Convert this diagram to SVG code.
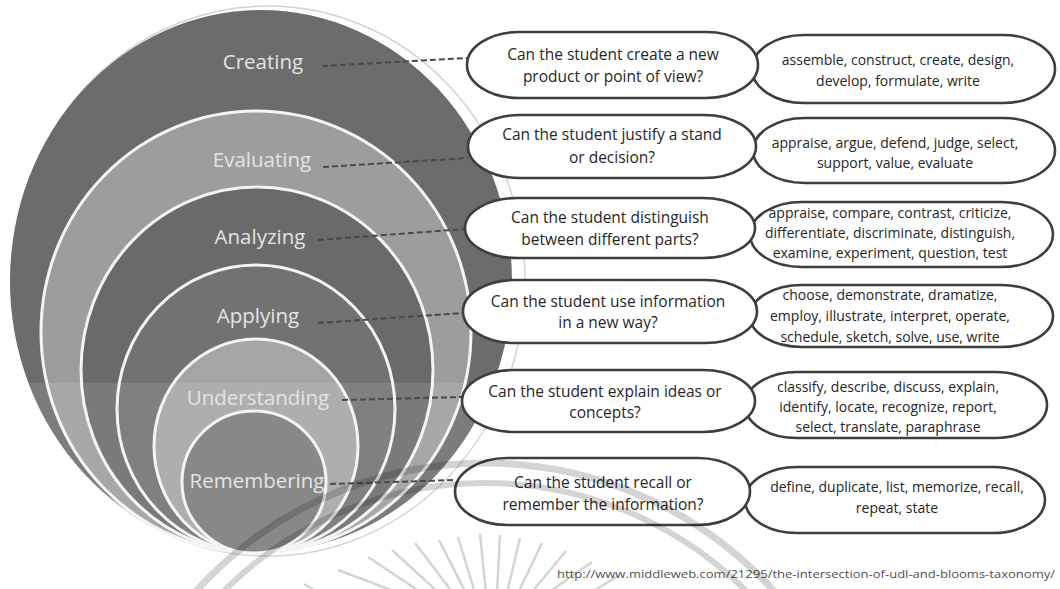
<svg xmlns="http://www.w3.org/2000/svg" width="1060" height="589" viewBox="0 0 1060 589">
<defs>
<style>
.ring{stroke:#f4f4f4;stroke-width:3}
.lbl{font-family:"Open Sans","Liberation Sans",sans-serif;font-size:20.5px;fill:#e4e4e4;text-anchor:middle}
.q{fill:#fff;stroke:#3e3e3e;stroke-width:2.6}
.qt{font-family:"Open Sans","Liberation Sans",sans-serif;font-size:15.5px;fill:#262626;text-anchor:middle}
.vt{font-family:"Open Sans","Liberation Sans",sans-serif;font-size:14px;fill:#262626;text-anchor:middle}
.con{stroke:#4a4a4a;stroke-width:2;stroke-dasharray:6 3;fill:none}
.wm{fill:none;stroke:#000;stroke-opacity:0.17}
</style>
<filter id="soft" x="-5%" y="-5%" width="110%" height="110%"><feGaussianBlur stdDeviation="0.6"/></filter>
</defs>
<rect width="1060" height="589" fill="#ffffff"/>

<g id="circles" filter="url(#soft)">
<ellipse cx="268" cy="281" rx="257" ry="275" fill="none" stroke="#d2d2d2" stroke-width="1.5"/>
<g id="creating"><ellipse cx="261" cy="281" rx="251" ry="271" fill="#6c6c6c"/></g>
<g id="evaluating"><ellipse class="ring" cx="256" cy="332" rx="215" ry="221" fill="#9d9d9d"/></g>
<g id="analyzing"><ellipse class="ring" cx="257" cy="370" rx="176" ry="183" fill="#6b6b6b"/></g>
<g id="applying"><ellipse class="ring" cx="256" cy="409" rx="139" ry="144" fill="#727272"/></g>
<g id="understanding"><ellipse class="ring" cx="256" cy="446" rx="102" ry="107" fill="#a5a5a5"/></g>
<g id="remembering"><ellipse class="ring" cx="254" cy="482" rx="72" ry="71" fill="#7b7b7b"/></g>
<rect x="0" y="383" width="520" height="206" fill="#ffffff" fill-opacity="0.1"/>
</g>

<g id="labels">
<text class="lbl" x="263" y="69">Creating</text>
<text class="lbl" x="262" y="167">Evaluating</text>
<text class="lbl" x="260" y="244">Analyzing</text>
<text class="lbl" x="258" y="323">Applying</text>
<text class="lbl" x="258" y="405">Understanding</text>
<text class="lbl" x="257" y="488">Remembering</text>
</g>

<g id="connectors">
<line class="con" x1="322" y1="66" x2="467" y2="58"/>
<line class="con" x1="323" y1="167" x2="468" y2="158"/>
<line class="con" x1="318" y1="240" x2="465" y2="229"/>
<line class="con" x1="318" y1="323" x2="463" y2="313"/>
<line class="con" x1="342" y1="400" x2="462" y2="397"/>
<line class="con" x1="330" y1="484" x2="455" y2="480"/>
</g>

<g id="verbs">
<g id="v1"><rect class="q" x="752" y="35" width="303" height="68" rx="52" ry="34"/>
<text class="vt" x="898" y="65">assemble, construct, create, design,</text>
<text class="vt" x="898" y="86">develop, formulate, write</text></g>
<g id="v2"><rect class="q" x="753" y="118" width="302" height="65" rx="52" ry="32.5"/>
<text class="vt" x="895" y="148">appraise, argue, defend, judge, select,</text>
<text class="vt" x="895" y="168">support, value, evaluate</text></g>
<g id="v3"><rect class="q" x="750" y="202" width="303" height="65" rx="52" ry="32.5"/>
<text class="vt" x="890" y="218">appraise, compare, contrast, criticize,</text>
<text class="vt" x="890" y="238">differentiate, discriminate, distinguish,</text>
<text class="vt" x="890" y="258">examine, experiment, question, test</text></g>
<g id="v4"><rect class="q" x="750" y="285" width="303" height="62" rx="52" ry="31"/>
<text class="vt" x="890" y="300">choose, demonstrate, dramatize,</text>
<text class="vt" x="890" y="321">employ, illustrate, interpret, operate,</text>
<text class="vt" x="890" y="342">schedule, sketch, solve, use, write</text></g>
<g id="v5"><rect class="q" x="745" y="372" width="302" height="66" rx="52" ry="33"/>
<text class="vt" x="888" y="392">classify, describe, discuss, explain,</text>
<text class="vt" x="888" y="412">identify, locate, recognize, report,</text>
<text class="vt" x="888" y="432">select, translate, paraphrase</text></g>
<g id="v6"><rect class="q" x="745" y="467" width="300" height="66" rx="52" ry="33"/>
<text class="vt" x="897" y="492">define, duplicate, list, memorize, recall,</text>
<text class="vt" x="897" y="513">repeat, state</text></g>
</g>

<g id="questions">
<g id="q1"><rect class="q" x="467" y="32" width="291" height="66" rx="52" ry="33"/>
<text class="qt" x="613" y="60">Can the student create a new</text>
<text class="qt" x="613" y="82">product or point of view?</text></g>
<g id="q2"><rect class="q" x="468" y="115" width="288" height="63" rx="52" ry="31.5"/>
<text class="qt" x="612" y="140">Can the student justify a stand</text>
<text class="qt" x="612" y="163">or decision?</text></g>
<g id="q3"><rect class="q" x="465" y="198" width="290" height="60" rx="52" ry="30"/>
<text class="qt" x="610" y="223">Can the student distinguish</text>
<text class="qt" x="610" y="245">between different parts?</text></g>
<g id="q4"><rect class="q" x="463" y="280" width="294" height="63" rx="52" ry="31.5"/>
<text class="qt" x="608" y="307">Can the student use information</text>
<text class="qt" x="608" y="328">in a new way?</text></g>
<g id="q5"><rect class="q" x="462" y="370" width="293" height="62" rx="52" ry="31"/>
<text class="qt" x="605" y="397">Can the student explain ideas or</text>
<text class="qt" x="605" y="418">concepts?</text></g>
<g id="q6"><rect class="q" x="455" y="458" width="295" height="67" rx="52" ry="33.5"/>
<text class="qt" x="603" y="488">Can the student recall or</text>
<text class="qt" x="603" y="510">remember the information?</text></g>
</g>

<text id="source" x="1055" y="578" text-anchor="end" font-family="Open Sans, Liberation Sans, sans-serif" font-size="11" fill="#505050" textLength="498" lengthAdjust="spacingAndGlyphs">http://www.middleweb.com/21295/the-intersection-of-udl-and-blooms-taxonomy/</text>

<g id="watermark">
<circle class="wm" cx="485" cy="853" r="390" stroke-width="7"/>
<circle class="wm" cx="485" cy="853" r="370" stroke-width="6" stroke-opacity="0.12"/>
<g class="wm" stroke-width="2.5" stroke-opacity="0.15">
<line x1="304" y1="584" x2="318" y2="592"/>
<line x1="338" y1="570" x2="399" y2="593"/>
<line x1="368" y1="557" x2="422" y2="593"/>
<line x1="392" y1="550" x2="439" y2="593"/>
<line x1="415" y1="543" x2="453" y2="593"/>
<line x1="439" y1="540" x2="466" y2="593"/>
<line x1="458" y1="537" x2="475" y2="593"/>
<line x1="480" y1="534" x2="486" y2="593"/>
<line x1="500" y1="535" x2="497" y2="593"/>
<line x1="520" y1="538" x2="507" y2="593"/>
<line x1="542" y1="543" x2="518" y2="593"/>
<line x1="566" y1="551" x2="531" y2="593"/>
<line x1="592" y1="562" x2="548" y2="593"/>
<line x1="618" y1="576" x2="590" y2="593"/>
</g>
</g>
</svg>
